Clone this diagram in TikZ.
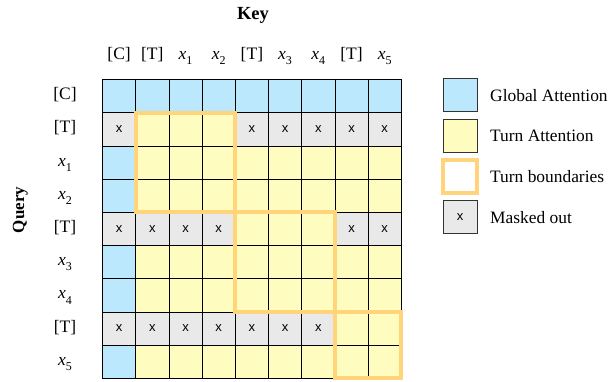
\documentclass[tikz,border=0pt]{standalone}
\usepackage{fontspec}
\setmainfont{Liberation Serif}
\setsansfont{Liberation Sans}

\definecolor{globalblue}{RGB}{187,232,252}
\definecolor{turnyellow}{RGB}{255,252,191}
\definecolor{maskgray}{RGB}{233,233,233}
\definecolor{turnorange}{RGB}{255,212,122}

\newcommand{\xsub}[1]{\textit{x}\raisebox{-0.3em}{\fontsize{12}{12}\selectfont #1}}

\tikzset{
  cell/.style={draw=black, line width=0.7pt, minimum width=33.2pt, minimum height=33.2pt,
    inner sep=0pt, outer sep=0pt, font=\sffamily\fontsize{13}{13}\selectfont},
  cellb/.style={fill=globalblue},
  celly/.style={fill=turnyellow},
  cellm/.style={fill=maskgray},
  turnbox/.style={draw=turnorange, line width=4pt},
  tok/.style={font=\fontsize{17.5}{20}\selectfont, anchor=base},
  legendbox/.style={draw=black!80, line width=0.7pt, minimum width=34pt, minimum height=33pt,
    inner sep=0pt, outer sep=0pt, font=\sffamily\fontsize{13}{13}\selectfont},
  legendtext/.style={font=\fontsize{17.4}{20}\selectfont, anchor=base west, inner sep=0pt},
}

\begin{document}
\begin{tikzpicture}[x=1pt, y=-1pt]
    \useasboundingbox (0,0) rectangle (613,381);

    % attention grid (b = global, y = turn, m = masked)
    \foreach \row [count=\r from 0] in {
        {b,b,b,b,b,b,b,b,b},
        {m,y,y,y,m,m,m,m,m},
        {b,y,y,y,y,y,y,y,y},
        {b,y,y,y,y,y,y,y,y},
        {m,m,m,m,y,y,y,m,m},
        {b,y,y,y,y,y,y,y,y},
        {b,y,y,y,y,y,y,y,y},
        {m,m,m,m,m,m,m,y,y},
        {b,y,y,y,y,y,y,y,y}}
      \foreach \typ [count=\c from 0] in \row
        \node[cell, cell\typ] (c-\r-\c) at (119.1+33.2*\c, 96.1+33.2*\r) {\if m\typ x\fi};

    % turn boundaries
    \draw[turnbox] (c-1-1.north west) rectangle (c-3-3.south east);
    \draw[turnbox] (c-4-4.north west) rectangle (c-6-6.south east);
    \draw[turnbox] (c-7-7.north west) rectangle (c-8-8.south east);

    % key and query tokens
    \foreach \lab [count=\i from 0] in {[C],[T],\xsub{1},\xsub{2},[T],\xsub{3},\xsub{4},[T],\xsub{5}} {
        \node[tok] (k-\i) at (119.1+33.2*\i, 59) {\lab};
        \node[tok] (q-\i) at (65, 99.6+33.2*\i) {\lab};
    }

    % axis titles
    \node[font=\bfseries\fontsize{18.5}{20}\selectfont, anchor=base] (key) at (253,19) {Key};
    \node[font=\bfseries\fontsize{17}{20}\selectfont, rotate=90, anchor=base] (query) at (24,210) {Query};

    % legend
    \node[legendbox, fill=globalblue] (lg-global) at (460,95) {};
    \node[legendbox, fill=turnyellow] (lg-turn) at (460,135.5) {};
    \node[legendbox, draw=turnorange, line width=4pt, fill=white] (lg-bound) at (460,176.5) {};
    \node[legendbox, fill=maskgray] (lg-mask) at (460,217) {x};

    \node[legendtext] (lt-global) at (490,101) {Global Attention};
    \node[legendtext] (lt-turn) at (490,141.5) {Turn Attention};
    \node[legendtext] (lt-bound) at (490,182.5) {Turn boundaries};
    \node[legendtext] (lt-mask) at (490,223) {Masked out};
\end{tikzpicture}
\end{document}
